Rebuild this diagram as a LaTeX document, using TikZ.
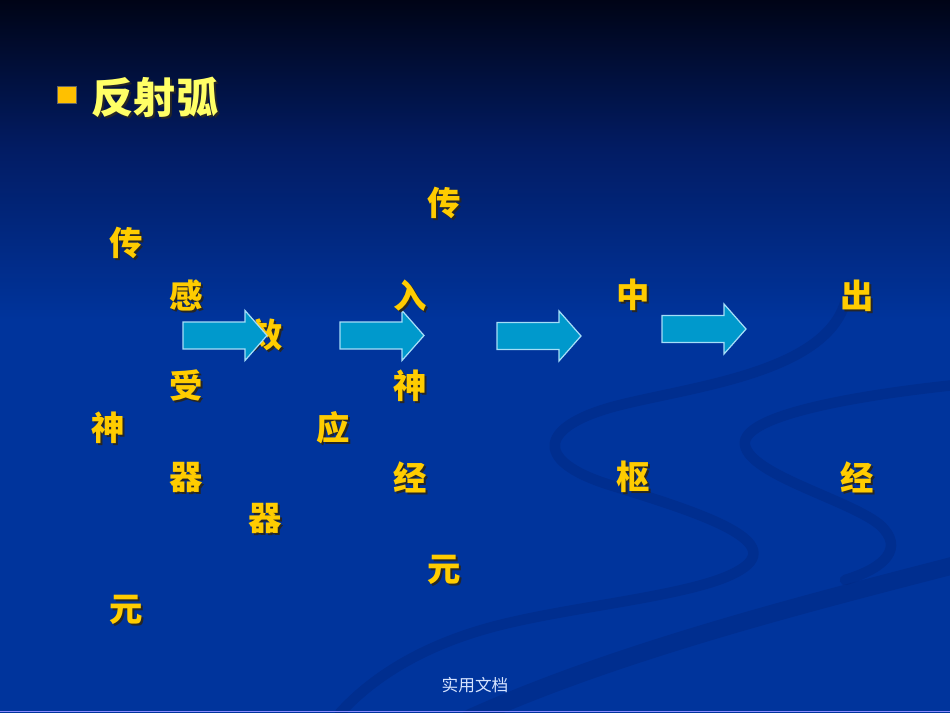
\documentclass[tikz,border=0pt]{standalone}
\usepackage{fontspec}
\newfontfamily\cjk{Noto Sans CJK SC}
\usetikzlibrary{positioning}

\definecolor{slidetop}{RGB}{0,4,22}
\definecolor{slidemid}{RGB}{2,28,100}
\definecolor{slideblue}{RGB}{0,52,156}
\definecolor{swirldark}{RGB}{0,38,125}
\definecolor{glyphgold}{RGB}{255,204,0}
\definecolor{titleyellow}{RGB}{255,255,102}
\definecolor{bulletgold}{RGB}{255,192,0}
\definecolor{arrowfill}{RGB}{0,153,204}
\definecolor{arrowedge}{RGB}{165,222,248}
\definecolor{footgrey}{RGB}{215,228,255}

\tikzset{
  glyph/.style={text=glyphgold, inner sep=0pt,
    font=\cjk\bfseries\fontsize{19}{19}\selectfont},
  glyphshadow/.style={glyph, text=black!85},
  titleglyph/.style={text=titleyellow, inner sep=0pt,
    font=\cjk\bfseries\fontsize{24}{24}\selectfont},
  titleshadow/.style={titleglyph, text=black!85},
  blockarrow/.style={fill=arrowfill, draw=arrowedge, line width=0.7pt},
  swirl/.style={draw=swirldark, line cap=round, opacity=0.4},
  footer/.style={text=footgrey, inner sep=0pt, font=\cjk\fontsize{9.5}{9.5}\selectfont}
}

\begin{document}
\begin{tikzpicture}[x=0.02cm, y=-0.02cm]
    \useasboundingbox (0,0) rectangle (950,713);

    % background
    \shade[top color=slidetop, bottom color=slidemid] (0,0) rectangle (950,150);
    \shade[top color=slidemid, bottom color=slideblue] (0,150) rectangle (950,320);
    \fill[slideblue] (0,320) rectangle (950,713);
    \draw[swirl, line width=6pt] (848,285) .. controls (845,370) and (700,385) .. (620,405)
        .. controls (540,425) and (530,460) .. (610,485)
        .. controls (690,510) and (790,540) .. (740,570)
        .. controls (700,595) and (580,605) .. (500,625)
        .. controls (420,645) and (370,680) .. (340,713);
    \draw[swirl, line width=6pt] (955,385) .. controls (860,395) and (740,415) .. (745,445)
        .. controls (750,475) and (850,500) .. (880,525)
        .. controls (905,548) and (885,568) .. (845,580);
    \draw[swirl, line width=10pt] (955,565) .. controls (820,600) and (620,650) .. (470,718);
    \draw[blue!45!white, line width=0.9pt] (0,711.5) -- (950,711.5);

    % title
    \node[fill=bulletgold, draw=black!60, line width=0.3pt, minimum width=19*0.02cm,
        minimum height=17*0.02cm, inner sep=0pt] (bullet) at (67,95) {};
    \node[titleshadow] at (157,99) {反射弧};
    \node[titleglyph] (title) at (155,97) {反射弧};

    % the glyph under the first arrow
    \node[glyphshadow] at (268,337) {效};
    \node[glyph] (xiao) at (266,335) {效};

    % arrows
    \foreach \ax/\ay in {183/335.5, 340/335.5, 497/336, 662/329} {
        \draw[blockarrow] (\ax,\ay-13.5) -- ++(62,0) -- ++(0,-11.5) -- ++(22,25)
            -- ++(-22,25) -- ++(0,-11.5) -- ++(-62,0) -- cycle;
    }

    % scattered characters
    \foreach \nm/\ch/\x/\y in {chuanA/传/444/203, chuanB/传/126/243, gan/感/186/295,
        ru/入/410/296, zhong/中/633/295, chu/出/857/296, shou/受/186/385,
        shenA/神/410/386, shenB/神/108/428, ying/应/333/428, qiA/器/186/477,
        jingA/经/410/477, shu/枢/633/477, jingB/经/857/477, qiB/器/265/518,
        yuanA/元/444/570, yuanB/元/126/610} {
        \node[glyphshadow] at (\x+2,\y+2) {\ch};
        \node[glyph] (\nm) at (\x,\y) {\ch};
    }

    \node[footer] (doc) at (475,685) {实用文档};
\end{tikzpicture}
\end{document}
